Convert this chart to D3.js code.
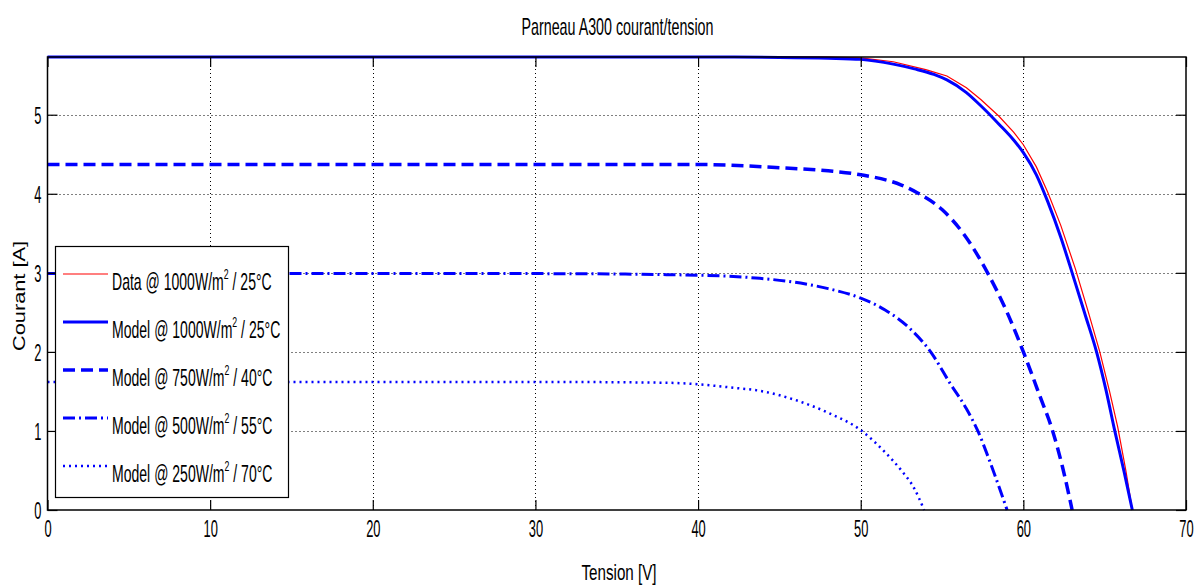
<!DOCTYPE html>
<html>
<head>
<meta charset="utf-8">
<title>Parneau A300 courant/tension</title>
<script src="https://d3js.org/d3.v7.min.js"></script>
<style>
html, body {
  margin: 0;
  padding: 0;
  background: #fff;
}
svg {
  display: block;
  font-family: 'Liberation Sans', Arial, sans-serif;
}
.grid {
  stroke: #000;
  stroke-width: 1px;
  stroke-dasharray: 1,3;
}
.curve {
  fill: none;
}
</style>
</head>
<body>
<svg width="1203" height="586"></svg>
<script>

// valeurs : tension [V] et courant [A]
var dataV  = [0, 10, 20, 30, 40, 45, 48, 50, 52, 54, 55.3, 56.5, 57.4, 58.5, 59.4, 60, 60.8, 61.5, 62.3, 63.2, 64, 64.7, 65.3, 65.8, 66.3, 66.7];
var dataI  = [5.73, 5.73, 5.73, 5.73, 5.73, 5.73, 5.73, 5.72, 5.67, 5.57, 5.49, 5.34, 5.19, 4.98, 4.78, 4.62, 4.34, 4.02, 3.6, 3.05, 2.5, 2.0, 1.5, 1.05, 0.5, 0];

var m1000V = [0, 10, 20, 30, 40, 45, 48, 50, 52, 53.3, 54.5, 55.3, 56.5, 57.4, 58.5, 59.4, 60, 60.8, 61.5, 62.3, 63, 63.8, 64.5, 65.1, 65.6, 66.2, 66.7];
var m1000I = [5.73, 5.73, 5.73, 5.73, 5.73, 5.725, 5.715, 5.70, 5.64, 5.58, 5.51, 5.44, 5.28, 5.11, 4.88, 4.68, 4.52, 4.24, 3.9, 3.45, 3.0, 2.47, 2.0, 1.5, 1.02, 0.48, 0];

var m750V = [0, 10, 20, 30, 40, 45, 48, 50, 52.5, 53.5, 55, 56.3, 57.8, 59, 60, 61, 61.8, 62.4, 63];
var m750I = [4.37, 4.37, 4.37, 4.37, 4.37, 4.33, 4.29, 4.24, 4.11, 4.01, 3.8, 3.5, 3.0, 2.5, 2.0, 1.45, 1.0, 0.55, 0];

var m500V = [0, 10, 20, 30, 40, 43.8, 46.3, 48, 50, 51.5, 53, 54.3, 55.5, 56.5, 57.2, 58, 59];
var m500I = [2.99, 2.99, 2.99, 2.99, 2.97, 2.93, 2.87, 2.8, 2.68, 2.53, 2.3, 2.0, 1.6, 1.28, 1.0, 0.58, 0];

var m250V = [0, 10, 20, 30, 38, 40, 42, 44, 46, 48, 50, 51.5, 52.5, 53.3, 53.9];
var m250I = [1.62, 1.62, 1.62, 1.62, 1.61, 1.59, 1.55, 1.5, 1.39, 1.23, 1.01, 0.73, 0.5, 0.27, 0];

var xTicks = [0, 10, 20, 30, 40, 50, 60, 70];
var yTicks = [0, 1, 2, 3, 4, 5];

var legendLabels = [
  ["Data @ 1000W/m", "2", " / 25\u00b0C"],
  ["Model @ 1000W/m", "2", " / 25\u00b0C"],
  ["Model @ 750W/m", "2", " / 40\u00b0C"],
  ["Model @ 500W/m", "2", " / 55\u00b0C"],
  ["Model @ 250W/m", "2", " / 70\u00b0C"]
];

var svg = d3.select("svg");

var x = d3.scaleLinear().domain([0, 70]).range([47.5, 1186]);
var y = d3.scaleLinear().domain([0, 5.73]).range([510, 57]);

var squeeze = 0.585;

// grille pointillée
svg.append("g").selectAll("line")
  .data(xTicks.filter(function(d) { return d > 0 && d < 70; }))
  .enter().append("line")
    .attr("class", "grid")
    .attr("x1", function(d) { return Math.round(x(d)) + 0.5; })
    .attr("x2", function(d) { return Math.round(x(d)) + 0.5; })
    .attr("y1", y(0))
    .attr("y2", y(5.73));

svg.append("g").selectAll("line")
  .data(yTicks.filter(function(d) { return d > 0; }))
  .enter().append("line")
    .attr("class", "grid")
    .attr("y1", function(d) { return Math.round(y(d)) + 0.5; })
    .attr("y2", function(d) { return Math.round(y(d)) + 0.5; })
    .attr("x1", x(0))
    .attr("x2", x(70));

// courbes
var series = [
  {v: dataV,  i: dataI,  color: "#ff0000", width: 1.2, dash: null,       curve: d3.curveLinear},
  {v: m1000V, i: m1000I, color: "#0000ff", width: 3,   dash: null,       curve: d3.curveMonotoneX},
  {v: m750V,  i: m750I,  color: "#0000ff", width: 3.5, dash: "12,6",     curve: d3.curveMonotoneX},
  {v: m500V,  i: m500I,  color: "#0000ff", width: 3,   dash: "12,4,2,4", curve: d3.curveMonotoneX},
  {v: m250V,  i: m250I,  color: "#0000ff", width: 2.5, dash: "2,4",      curve: d3.curveMonotoneX}
];

series.forEach(function(s) {
  var pts = s.v.map(function(v, k) { return [v, s.i[k]]; });
  var line = d3.line()
      .x(function(d) { return x(d[0]); })
      .y(function(d) { return y(d[1]); })
      .curve(s.curve);
  svg.append("path")
      .datum(pts)
      .attr("class", "curve")
      .attr("d", line)
      .attr("stroke", s.color)
      .attr("stroke-width", s.width)
      .attr("stroke-dasharray", s.dash);
});

// axes
var xAxis = svg.append("g")
    .attr("transform", "translate(0,510)")
    .call(d3.axisBottom(x).tickValues(xTicks).tickSize(-10).tickFormat(d3.format("d")));
var xTop = svg.append("g")
    .attr("transform", "translate(0,57)")
    .call(d3.axisTop(x).tickValues(xTicks).tickSize(-10).tickFormat(""));
var yAxis = svg.append("g")
    .attr("transform", "translate(47.5,0)")
    .call(d3.axisLeft(y).tickValues(yTicks).tickSize(-10).tickFormat(d3.format("d")));
var yRight = svg.append("g")
    .attr("transform", "translate(1186,0)")
    .call(d3.axisRight(y).tickValues(yTicks).tickSize(-10).tickFormat(""));

[xAxis, xTop, yAxis, yRight].forEach(function(a) {
  a.select(".domain").remove();
  a.selectAll("line").attr("stroke", "#000").attr("stroke-width", 1.2);
});

xAxis.selectAll("text")
    .attr("y", 27)
    .attr("dy", 0)
    .attr("font-size", 23)
    .attr("font-family", "'Liberation Sans', Arial, sans-serif")
    .attr("fill", "#000")
    .attr("transform", "scale(0.56,1)");

yAxis.selectAll("text")
    .attr("x", -6 / 0.56)
    .attr("dy", "0.36em")
    .attr("font-size", 23)
    .attr("font-family", "'Liberation Sans', Arial, sans-serif")
    .attr("fill", "#000")
    .attr("transform", "scale(0.56,1)");

svg.append("rect")
    .attr("x", x(0))
    .attr("y", y(5.73))
    .attr("width", x(70) - x(0))
    .attr("height", y(0) - y(5.73))
    .attr("fill", "none")
    .attr("stroke", "#000")
    .attr("stroke-width", 1.5);

// titre et libellés
svg.append("text")
    .attr("x", 617.5)
    .attr("y", 35)
    .attr("text-anchor", "middle")
    .attr("font-size", 24)
    .attr("textLength", 192)
    .attr("lengthAdjust", "spacingAndGlyphs")
    .text("Parneau  A300 courant/tension");

svg.append("text")
    .attr("x", 619)
    .attr("y", 580)
    .attr("text-anchor", "middle")
    .attr("font-size", 22)
    .attr("textLength", 75)
    .attr("lengthAdjust", "spacingAndGlyphs")
    .text("Tension [V]");

svg.append("text")
    .attr("transform", "translate(25,296) rotate(-90)")
    .attr("text-anchor", "middle")
    .attr("font-size", 17)
    .attr("textLength", 110)
    .attr("lengthAdjust", "spacingAndGlyphs")
    .text("Courant [A]");

// légende
var legend = svg.append("g");
legend.append("rect")
    .attr("x", 55.5)
    .attr("y", 246.5)
    .attr("width", 233)
    .attr("height", 251)
    .attr("fill", "#fff")
    .attr("stroke", "#000")
    .attr("stroke-width", 1.2);

legendLabels.forEach(function(lab, k) {
  var s = series[k];
  var ly = 274 + k * 48;
  legend.append("line")
      .attr("x1", 63)
      .attr("x2", 108)
      .attr("y1", ly)
      .attr("y2", ly)
      .attr("stroke", s.color)
      .attr("stroke-width", s.width)
      .attr("stroke-dasharray", s.dash);
  var t = legend.append("g")
      .attr("transform", "translate(112," + (ly + 16) + ") scale(" + squeeze + ",1)")
    .append("text")
      .attr("font-size", 24);
  t.append("tspan").text(lab[0]);
  t.append("tspan").attr("font-size", 15).attr("dy", -11).text(lab[1]);
  t.append("tspan").attr("dy", 11).text(lab[2]);
});

</script>
</body>
</html>
